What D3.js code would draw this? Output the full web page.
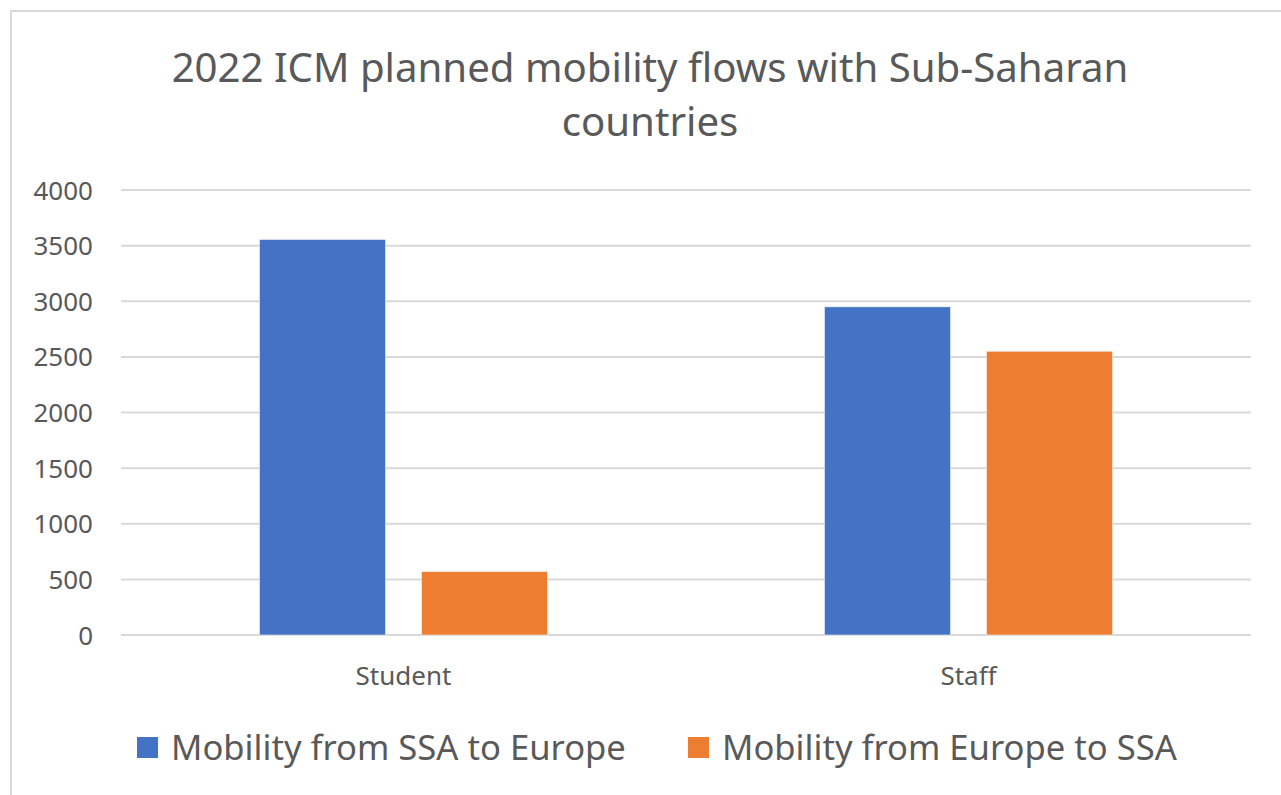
<!DOCTYPE html>
<html>
<head>
<meta charset="utf-8">
<script src="https://cdn.jsdelivr.net/npm/d3@7"></script>
<style>
	body { margin: 0; background: #fff; }
	text { font-family: "Noto Sans", "Open Sans", sans-serif; fill: #595959; }
</style>
</head>
<body>
<div id="chart"></div>
<script>
// chart data
var categories = ["Student", "Staff"];
var seriesNames = ["Mobility from SSA to Europe", "Mobility from Europe to SSA"];
var ssaToEurope = [3555, 2950];
var europeToSsa = [570, 2550];
var yTicks = [0, 500, 1000, 1500, 2000, 2500, 3000, 3500, 4000];
var titleLines = ["2022 ICM planned mobility flows with Sub-Saharan", "countries"];

var colors = ["#4472C4", "#ED7D31"];

var svgWidth = 1281;
var svgHeight = 795;

var plot = { left: 121, right: 1251, top: 190, bottom: 635 };

var svg = d3.select("#chart")
	.append("svg")
	.attr("width", svgWidth)
	.attr("height", svgHeight);

svg.append("rect")
	.attr("width", svgWidth)
	.attr("height", svgHeight)
	.attr("fill", "#fff");

// chart frame (cut off at right and bottom)
svg.append("rect")
	.attr("x", 11)
	.attr("y", 11)
	.attr("width", 1400)
	.attr("height", 900)
	.attr("fill", "none")
	.attr("stroke", "#d9d9d9")
	.attr("stroke-width", 2);

// scale a text's font so it spans a given width
function fitText(sel, targetWidth) {
	var size = +sel.attr("font-size");
	var w = sel.node().getComputedTextLength();
	sel.attr("font-size", size * targetWidth / w);
	return +sel.attr("font-size");
}

// title
var titleY = [82, 136];
var titleSize = 36;
titleLines.forEach(function(line, i) {
	var t = svg.append("text")
		.attr("x", 650)
		.attr("y", titleY[i])
		.attr("text-anchor", "middle")
		.attr("font-size", titleSize)
		.text(line);
	if (i === 0) titleSize = fitText(t, 957);
});

// scales
var xScale = d3.scaleBand()
	.domain(categories)
	.range([plot.left, plot.right])
	.paddingInner(0)
	.paddingOuter(0);

var xSub = d3.scaleBand()
	.domain(seriesNames)
	.range([0, xScale.bandwidth()])
	.paddingInner(0.222)
	.paddingOuter(0.855);

var yScale = d3.scaleLinear()
	.domain([0, 4000])
	.range([plot.bottom, plot.top]);

// gridlines
svg.append("g")
	.selectAll("line")
	.data(yTicks)
	.enter()
	.append("line")
	.attr("x1", plot.left)
	.attr("x2", plot.right)
	.attr("y1", d => yScale(d))
	.attr("y2", d => yScale(d))
	.attr("stroke", "#d9d9d9")
	.attr("stroke-width", 2);

// y axis labels
var leftAxis = d3.axisLeft(yScale)
	.tickValues(yTicks)
	.tickSize(0)
	.tickPadding(0)
	.tickFormat(d3.format("d"));

var yAxis = svg.append("g")
	.attr("transform", "translate(93, 0)")
	.call(leftAxis);
yAxis.select(".domain").remove();
yAxis.attr("font-family", null);
yAxis.selectAll("text")
	.attr("font-size", 26)
	.attr("dy", "0.35em")
	.attr("fill", "#595959");

// bars
var rows = categories.map(function(c, i) {
	return { category: c, values: [ssaToEurope[i], europeToSsa[i]] };
});

var groups = svg.append("g")
	.selectAll("g")
	.data(rows)
	.enter()
	.append("g")
	.attr("transform", d => `translate(${xScale(d.category)}, 0)`);

groups.selectAll("rect")
	.data(d => d.values.map((v, j) => ({ series: seriesNames[j], value: v, color: colors[j] })))
	.enter()
	.append("rect")
	.attr("x", d => xSub(d.series))
	.attr("y", d => yScale(d.value))
	.attr("width", xSub.bandwidth())
	.attr("height", d => yScale(0) - yScale(d.value))
	.attr("fill", d => d.color)
	.attr("stroke", "#fff")
	.attr("stroke-opacity", 0.5)
	.attr("stroke-width", 1);

// x axis labels
var bottomAxis = d3.axisBottom(xScale)
	.tickSize(0)
	.tickPadding(0);

var xAxis = svg.append("g")
	.attr("transform", "translate(0, 685)")
	.call(bottomAxis);
xAxis.select(".domain").remove();
xAxis.attr("font-family", null);
xAxis.selectAll("text")
	.attr("font-size", 26)
	.attr("dy", 0)
	.attr("fill", "#595959");

// legend
var legendX = [137, 688];
seriesNames.forEach(function(name, i) {
	svg.append("rect")
		.attr("x", legendX[i])
		.attr("y", 737)
		.attr("width", 21)
		.attr("height", 21)
		.attr("fill", colors[i]);
	var t = svg.append("text")
		.attr("x", legendX[i] + 34)
		.attr("y", 760)
		.attr("font-size", 30)
		.text(name);
	fitText(t, 455);
});
</script>
</body>
</html>
